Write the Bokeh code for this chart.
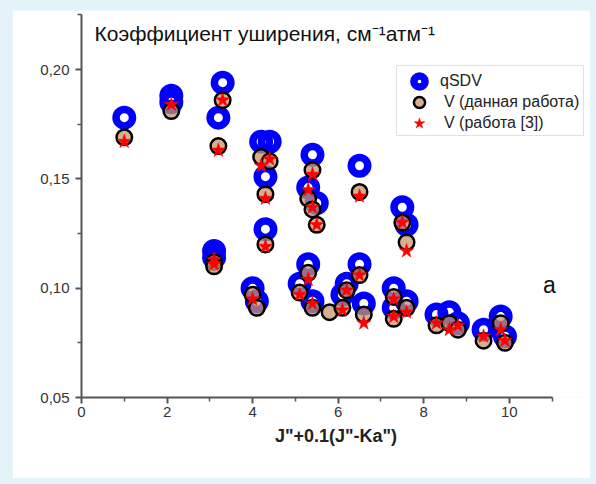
from bokeh.plotting import figure
from bokeh.models import (Range1d, FixedTicker, CustomJSTickFormatter, Legend, LegendItem,
                          Label, BoxAnnotation, GlobalInlineStyleSheet)
from bokeh.embed import file_html
from bokeh.resources import INLINE

# --- data ---
qsdv_x = [1.0, 2.1, 2.1, 3.3, 3.2, 3.1, 3.1, 4.2, 4.4, 4.3, 4.3, 4.0, 4.1,
          5.4, 5.3, 5.5, 5.3, 5.1, 5.4, 6.5, 6.5, 6.2, 6.1, 6.6,
          7.5, 7.6, 7.3, 7.6, 7.3, 8.3, 8.6, 8.8, 9.4, 9.8, 9.9]
qsdv_y = [0.178, 0.188, 0.185, 0.194, 0.178, 0.117, 0.114, 0.167, 0.167, 0.151, 0.127, 0.100, 0.094,
          0.161, 0.146, 0.139, 0.111, 0.102, 0.094, 0.156, 0.111, 0.102, 0.097, 0.093,
          0.137, 0.129, 0.100, 0.094, 0.091, 0.088, 0.089, 0.084, 0.081, 0.087, 0.078]

v_x = [1.0, 2.1, 3.3, 3.2, 3.1, 3.1, 4.2, 4.4, 4.3, 4.3, 4.0, 4.1,
       5.4, 5.3, 5.4, 5.5, 5.3, 5.1, 5.4, 5.8, 6.5, 6.5, 6.2, 6.1, 6.6,
       7.5, 7.6, 7.3, 7.6, 7.3, 8.3, 8.6, 8.8, 9.4, 9.8, 9.9]
v_y = [0.169, 0.181, 0.186, 0.165, 0.112, 0.110, 0.160, 0.158, 0.143, 0.120, 0.097, 0.091,
       0.154, 0.141, 0.136, 0.129, 0.107, 0.098, 0.091, 0.089, 0.144, 0.106, 0.099, 0.091, 0.088,
       0.130, 0.121, 0.096, 0.091, 0.086, 0.083, 0.084, 0.081, 0.076, 0.084, 0.075]

v3_x = [1.0, 2.1, 3.3, 3.2, 3.1, 3.1, 4.2, 4.4, 4.3, 4.3, 4.0,
        5.4, 5.3, 5.4, 5.5, 5.3, 5.1, 5.4, 6.5, 6.5, 6.2, 6.1, 6.6,
        7.5, 7.6, 7.3, 7.6, 7.3, 8.3, 8.6, 8.8, 9.4, 9.8, 9.9]
v3_y = [0.167, 0.184, 0.186, 0.163, 0.113, 0.111, 0.156, 0.159, 0.141, 0.119, 0.095,
        0.152, 0.145, 0.137, 0.129, 0.104, 0.097, 0.093, 0.142, 0.106, 0.099, 0.090, 0.084,
        0.130, 0.117, 0.095, 0.089, 0.087, 0.084, 0.081, 0.083, 0.078, 0.081, 0.076]

series_labels = ["qSDV", "V (данная работа)", "V (работа [3])"]
title_text = "Коэффициент уширения, см⁻¹атм⁻¹"
x_axis_label = 'J"+0.1(J"-Ka")'
panel_letter = "a"

x_ticks = [0, 2, 4, 6, 8, 10]
x_minor = [1, 3, 5, 7, 9, 11]
x_bounds = (0, 11)
y_ticks = [0.05, 0.10, 0.15, 0.20]
y_tick_labels = ["0,05", "0,10", "0,15", "0,20"]
y_minor = [0.075, 0.125, 0.175, 0.225]
y_bounds = (0.05, 0.225)

FONT = "Liberation Sans"
AX = "#555555"

page_css = GlobalInlineStyleSheet(
    css="html, body { margin: 0; background-color: #e4f2fa; } body { padding: 10px 0 0 12px; }")

# frame: left edge at x=0, 42.75 px per x unit, 2186.7 px per y unit
p = figure(width=578, height=468, output_backend="svg", toolbar_location=None,
           x_range=Range1d(0, 11.9), y_range=Range1d(0.05, 0.227),
           min_border_left=69, min_border_right=0, min_border_top=0, min_border_bottom=81,
           stylesheets=[page_css])
p.border_fill_color = "white"
p.background_fill_color = "white"
p.outline_line_color = None
p.xgrid.visible = False
p.ygrid.visible = False

r_q = p.scatter(qsdv_x, qsdv_y, marker="circle", size=16.5, fill_color=None,
                line_color="#0000ff", line_width=7.5)
r_v = p.scatter(v_x, v_y, marker="circle", size=15.5, fill_color="#c8946a", fill_alpha=0.75,
                line_color="black", line_width=2.5)
r_s = p.scatter(v3_x, v3_y, marker="star", size=15, fill_color="#ff0000",
                line_color="#ff0000", line_width=0.5)

# axes
for ax in (p.xaxis[0], p.yaxis[0]):
    ax.axis_line_color = AX
    ax.axis_line_width = 2
    ax.major_tick_line_color = AX
    ax.major_tick_line_width = 2
    ax.minor_tick_line_color = AX
    ax.minor_tick_line_width = 1.5
    ax.major_tick_in = 0
    ax.major_tick_out = 6
    ax.minor_tick_in = 0
    ax.minor_tick_out = 4
    ax.major_label_text_font = FONT
    ax.major_label_text_font_size = "15px"
    ax.major_label_text_color = "#333333"

p.xaxis.bounds = x_bounds
p.yaxis.bounds = y_bounds
p.xaxis.ticker = FixedTicker(ticks=x_ticks, minor_ticks=x_minor)
p.yaxis.ticker = FixedTicker(ticks=y_ticks, minor_ticks=y_minor)
p.yaxis.formatter = CustomJSTickFormatter(
    args=dict(tvals=y_ticks, tlabels=y_tick_labels),
    code="const i = tvals.findIndex(t => Math.abs(t - tick) < 1e-9); return i >= 0 ? tlabels[i] : '';")
p.xaxis.major_label_standoff = 3
p.yaxis.major_label_standoff = 6
p.xaxis.axis_label = x_axis_label
p.xaxis.axis_label_text_font = FONT
p.xaxis.axis_label_text_font_size = "18px"
p.xaxis.axis_label_text_font_style = "bold"
p.xaxis.axis_label_text_color = "#222222"
p.xaxis.axis_label_standoff = 6

# legend frame
p.add_layout(BoxAnnotation(left=315, right=502, bottom=262, top=332,
                           left_units="screen", right_units="screen",
                           bottom_units="screen", top_units="screen",
                           fill_color="white", fill_alpha=1, line_color="#9a9a9a",
                           line_width=1, level="underlay"))

renderers = [r_q, r_v, r_s]
legend_rows_y = [302, 281, 260]
legend_standoff = [6, 10, 10]
for lab, rend, ly, so in zip(series_labels, renderers, legend_rows_y, legend_standoff):
    lg = Legend(items=[LegendItem(label=lab, renderers=[rend])],
                location=(323, ly), orientation="vertical",
                glyph_width=30, glyph_height=28, spacing=0, padding=0, margin=0,
                label_standoff=so, label_text_font=FONT, label_text_font_size="16px",
                label_text_color="#222222", background_fill_alpha=0, border_line_color=None)
    p.add_layout(lg)

p.add_layout(Label(x=13, y=364, x_units="screen", y_units="screen", text=title_text,
                   text_font=FONT, text_font_size="21px", text_color="#111111",
                   text_baseline="alphabetic", text_align="left"))
p.add_layout(Label(x=468, y=113, x_units="screen", y_units="screen", text=panel_letter,
                   text_font=FONT, text_font_size="23px", text_color="#111111",
                   text_baseline="alphabetic", text_align="center"))

open("out.html", "w").write(file_html(p, INLINE))
